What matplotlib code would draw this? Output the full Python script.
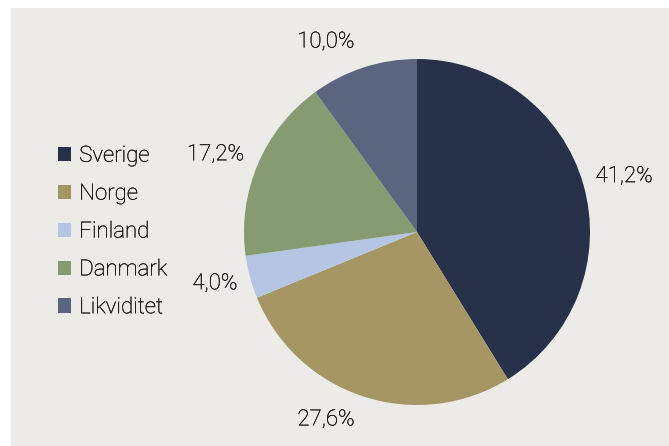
import numpy as np
import matplotlib.pyplot as plt
import matplotlib.patheffects as pe
from matplotlib.patches import Rectangle

# data
labels = ['Sverige', 'Norge', 'Finland', 'Danmark', 'Likviditet']
shares = [41.2, 27.6, 4.0, 17.2, 10.0]
colors = ['#273149', '#a59663', '#b4c6e3', '#879b73', '#5a6680']
# nudges of the value labels, pixels (like the original's label placement)
nudge = [(5, -2), (-26, 12), (1, 3), (-8, -5), (-26, -10)]

plt.rcParams['font.family'] = ['Roboto', 'DejaVu Sans']
plt.rcParams['font.weight'] = 'light'
txt_col = '#111111'

W, H = 669, 446
fig = plt.figure(figsize=(W / 100, H / 100), dpi=100)
fig.patches.append(Rectangle((11 / W, 0), 1, (H - 8) / H, transform=fig.transFigure,
                             facecolor='#ecebe8', edgecolor='none', zorder=-5))

ax = fig.add_axes([0, 0, 1, 1])
ax.set_facecolor('none')

wedges, _ = ax.pie(shares, colors=colors, startangle=90, counterclock=False,
                   wedgeprops=dict(linewidth=0))
for w, v, (dx, dy) in zip(wedges, shares, nudge):
    a = np.deg2rad((w.theta1 + w.theta2) / 2)
    ax.annotate(f'{v:.1f}%'.replace('.', ','), (1.215 * np.cos(a), 1.215 * np.sin(a)),
                xytext=(dx, dy), textcoords='offset pixels', ha='center', va='center',
                fontsize=16, color=txt_col)

cx, cy, r = 417, 232, 173
ax.set_xlim(-cx / r, (W - cx) / r)
ax.set_ylim(-(H - cy) / r, cy / r)
ax.set_aspect('equal')
ax.axis('off')

leg = fig.legend(wedges, labels, loc='center left', bbox_to_anchor=(47 / W, (H - 232) / H),
                 frameon=False, fontsize=16, handlelength=0.6, handleheight=0.6,
                 handletextpad=0.35, labelspacing=0.76, borderpad=0)

# thin outline so the light strokes read as dark as the original
for t in list(leg.get_texts()) + ax.texts:
    t.set_color(txt_col)
    t.set_path_effects([pe.withStroke(linewidth=0.2, foreground=txt_col)])

fig.savefig('out.png', dpi=100)
